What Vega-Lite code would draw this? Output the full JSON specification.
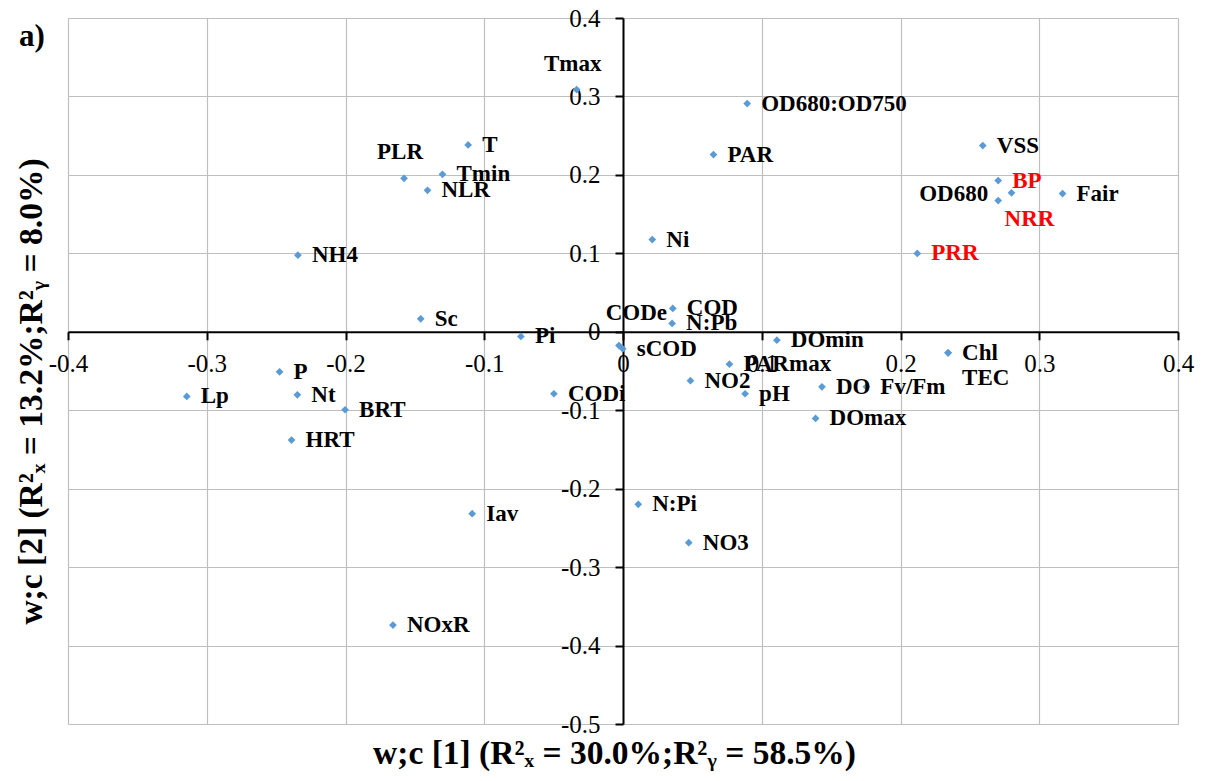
{
  "$schema": "https://vega.github.io/schema/vega-lite/v6.json",
  "width": 1110,
  "height": 706,
  "autosize": "none",
  "padding": {"left": 68, "top": 18, "right": 28, "bottom": 57},
  "background": "white",
  "title": {
    "text": "a)",
    "anchor": "start",
    "frame": "group",
    "font": "Liberation Serif",
    "fontSize": 31,
    "fontWeight": "bold",
    "color": "#000000",
    "baseline": "top",
    "offset": 0,
    "dx": -49,
    "dy": 47
  },
  "config": {"view": {"stroke": null}},
  "data": {
    "values": [
      {"name": "Tmax", "x": -0.0334, "y": 0.3087},
      {"name": "OD680:OD750", "x": 0.0895, "y": 0.2909},
      {"name": "T", "x": -0.1116, "y": 0.2382},
      {"name": "VSS", "x": 0.2593, "y": 0.2374},
      {"name": "PAR", "x": 0.0652, "y": 0.2259},
      {"name": "PLR", "x": -0.1578, "y": 0.1957},
      {"name": "Tmin", "x": -0.1301, "y": 0.2008},
      {"name": "BP", "x": 0.2704, "y": 0.1928},
      {"name": "NLR", "x": -0.1409, "y": 0.1804},
      {"name": "Fair", "x": 0.3168, "y": 0.1762},
      {"name": "NRR", "x": 0.28, "y": 0.1771},
      {"name": "OD680", "x": 0.2704, "y": 0.1673},
      {"name": "Ni", "x": 0.0211, "y": 0.1176},
      {"name": "PRR", "x": 0.2121, "y": 0.0998},
      {"name": "NH4", "x": -0.2343, "y": 0.0976},
      {"name": "COD", "x": 0.0359, "y": 0.0297},
      {"name": "N:Pb", "x": 0.0354, "y": 0.0106},
      {"name": "Sc", "x": -0.1458, "y": 0.0166},
      {"name": "Pi", "x": -0.0736, "y": -0.006},
      {"name": "CODe", "x": -0.0029, "y": -0.0175},
      {"name": "sCOD", "x": -0.0002, "y": -0.0217},
      {"name": "DOmin", "x": 0.1109, "y": -0.0107},
      {"name": "PARmax", "x": 0.0767, "y": -0.0413},
      {"name": "NO2", "x": 0.0486, "y": -0.0624},
      {"name": "pH", "x": 0.088, "y": -0.079},
      {"name": "CODi", "x": -0.0498, "y": -0.079},
      {"name": "DO", "x": 0.1434, "y": -0.0701},
      {"name": "Fv/Fm", "x": 0.1754, "y": -0.0701},
      {"name": "DOmax", "x": 0.1388, "y": -0.1105},
      {"name": "Chl", "x": 0.2343, "y": -0.0268},
      {"name": "TEC", "x": 0.2343, "y": -0.0268},
      {"name": "P", "x": -0.2475, "y": -0.051},
      {"name": "Lp", "x": -0.3144, "y": -0.0824},
      {"name": "Nt", "x": -0.2347, "y": -0.0803},
      {"name": "BRT", "x": -0.2003, "y": -0.0994},
      {"name": "HRT", "x": -0.2389, "y": -0.1381},
      {"name": "Iav", "x": -0.1087, "y": -0.2319},
      {"name": "N:Pi", "x": 0.011, "y": -0.22},
      {"name": "NO3", "x": 0.0474, "y": -0.2688},
      {"name": "NOxR", "x": -0.1658, "y": -0.3738}
    ]
  },
  "resolve": {"axis": {"x": "independent", "y": "independent"}},
  "layer": [
    {
      "mark": {"type": "point", "shape": "diamond", "filled": true, "size": 60, "color": "#5B9BD5", "opacity": 1},
      "encoding": {
        "x": {
          "field": "x", "type": "quantitative",
          "scale": {"domain": [-0.4, 0.4], "nice": false, "zero": false},
          "axis": {
            "orient": "bottom",
            "values": [-0.4, -0.3, -0.2, -0.1, 0, 0.1, 0.2, 0.3, 0.4],
            "grid": true, "gridColor": "#BFBFBF", "gridWidth": 1.2,
            "labels": false, "ticks": false, "domain": false,
            "title": "w;c [1] (R²ₓ = 30.0%;R²ᵧ = 58.5%)",
            "titleFont": "Liberation Serif", "titleFontSize": 33.5, "titleFontWeight": "bold", "titleColor": "#000000",
            "titleX": 546, "titleY": 29, "titleAlign": "center", "titleBaseline": "middle"
          }
        },
        "y": {
          "field": "y", "type": "quantitative",
          "scale": {"domain": [-0.5, 0.4], "nice": false, "zero": false},
          "axis": {
            "orient": "left",
            "values": [-0.5, -0.4, -0.3, -0.2, -0.1, 0, 0.1, 0.2, 0.3, 0.4],
            "grid": true, "gridColor": "#BFBFBF", "gridWidth": 1.2,
            "labels": false, "ticks": false, "domain": false,
            "title": "w;c [2] (R²ₓ = 13.2%;R²ᵧ = 8.0%)",
            "titleFont": "Liberation Serif", "titleFontSize": 33.5, "titleFontWeight": "bold", "titleColor": "#000000",
            "titleX": -37, "titleY": 373, "titleAngle": -90, "titleAlign": "center", "titleBaseline": "middle"
          }
        }
      }
    },
    {
      "transform": [{"filter": {"not": {"field": "name", "oneOf": ["Tmax", "PLR", "OD680", "CODe", "NRR", "TEC"]}}}],
      "mark": {"type": "text", "align": "left", "baseline": "middle", "dx": 14, "font": "Liberation Serif", "fontSize": 23, "fontWeight": "bold"},
      "encoding": {
        "x": {
          "field": "x", "type": "quantitative",
          "scale": {"domain": [-0.4, 0.4], "nice": false, "zero": false},
          "axis": {
            "orient": "bottom", "offset": -392.22,
            "values": [-0.4, -0.3, -0.2, -0.1, 0, 0.1, 0.2, 0.3, 0.4],
            "grid": false, "domain": true, "domainColor": "#000000", "domainWidth": 2,
            "ticks": true, "tickColor": "#000000", "tickWidth": 2, "tickSize": 8,
            "labelFont": "Liberation Serif", "labelFontSize": 25, "labelColor": "#000000", "labelPadding": 12,
            "labelExpr": "toString(datum.value)", "labelFlush": false, "labelOverlap": false,
            "title": null
          }
        },
        "y": {
          "field": "y", "type": "quantitative",
          "scale": {"domain": [-0.5, 0.4], "nice": false, "zero": false},
          "axis": {
            "orient": "left", "offset": -555,
            "values": [-0.5, -0.4, -0.3, -0.2, -0.1, 0, 0.1, 0.2, 0.3, 0.4],
            "grid": false, "domain": true, "domainColor": "#000000", "domainWidth": 2,
            "ticks": true, "tickColor": "#000000", "tickWidth": 2, "tickSize": 8,
            "labelFont": "Liberation Serif", "labelFontSize": 25, "labelColor": "#000000", "labelPadding": 15,
            "labelExpr": "toString(datum.value)", "labelFlush": false, "labelOverlap": false,
            "title": null
          }
        },
        "text": {"field": "name"},
        "color": {"condition": {"test": {"field": "name", "oneOf": ["BP", "NRR", "PRR"]}, "value": "#FF0000"}, "value": "#000000"}
      }
    },
    {
      "transform": [{"filter": {"field": "name", "oneOf": ["Tmax", "PLR"]}}],
      "mark": {"type": "text", "align": "center", "baseline": "middle", "dx": -4, "dy": -26, "font": "Liberation Serif", "fontSize": 23, "fontWeight": "bold", "color": "#000000"},
      "encoding": {
        "x": {"field": "x", "type": "quantitative", "scale": {"domain": [-0.4, 0.4], "nice": false, "zero": false}, "axis": null},
        "y": {"field": "y", "type": "quantitative", "scale": {"domain": [-0.5, 0.4], "nice": false, "zero": false}, "axis": null},
        "text": {"field": "name"}
      }
    },
    {
      "transform": [{"filter": {"field": "name", "equal": "OD680"}}],
      "mark": {"type": "text", "align": "right", "baseline": "middle", "dx": -10, "dy": -7, "font": "Liberation Serif", "fontSize": 23, "fontWeight": "bold", "color": "#000000"},
      "encoding": {
        "x": {"field": "x", "type": "quantitative", "scale": {"domain": [-0.4, 0.4], "nice": false, "zero": false}, "axis": null},
        "y": {"field": "y", "type": "quantitative", "scale": {"domain": [-0.5, 0.4], "nice": false, "zero": false}, "axis": null},
        "text": {"field": "name"}
      }
    },
    {
      "transform": [{"filter": {"field": "name", "equal": "CODe"}}],
      "mark": {"type": "text", "align": "right", "baseline": "middle", "dx": 48, "dy": -33, "font": "Liberation Serif", "fontSize": 23, "fontWeight": "bold", "color": "#000000"},
      "encoding": {
        "x": {"field": "x", "type": "quantitative", "scale": {"domain": [-0.4, 0.4], "nice": false, "zero": false}, "axis": null},
        "y": {"field": "y", "type": "quantitative", "scale": {"domain": [-0.5, 0.4], "nice": false, "zero": false}, "axis": null},
        "text": {"field": "name"}
      }
    },
    {
      "transform": [{"filter": {"field": "name", "equal": "NRR"}}],
      "mark": {"type": "text", "align": "center", "baseline": "middle", "dx": 18, "dy": 26, "font": "Liberation Serif", "fontSize": 23, "fontWeight": "bold", "color": "#FF0000"},
      "encoding": {
        "x": {"field": "x", "type": "quantitative", "scale": {"domain": [-0.4, 0.4], "nice": false, "zero": false}, "axis": null},
        "y": {"field": "y", "type": "quantitative", "scale": {"domain": [-0.5, 0.4], "nice": false, "zero": false}, "axis": null},
        "text": {"field": "name"}
      }
    },
    {
      "transform": [{"filter": {"field": "name", "equal": "TEC"}}],
      "mark": {"type": "text", "align": "left", "baseline": "middle", "dx": 14, "dy": 25, "font": "Liberation Serif", "fontSize": 23, "fontWeight": "bold", "color": "#000000"},
      "encoding": {
        "x": {"field": "x", "type": "quantitative", "scale": {"domain": [-0.4, 0.4], "nice": false, "zero": false}, "axis": null},
        "y": {"field": "y", "type": "quantitative", "scale": {"domain": [-0.5, 0.4], "nice": false, "zero": false}, "axis": null},
        "text": {"field": "name"}
      }
    }
  ]
}
